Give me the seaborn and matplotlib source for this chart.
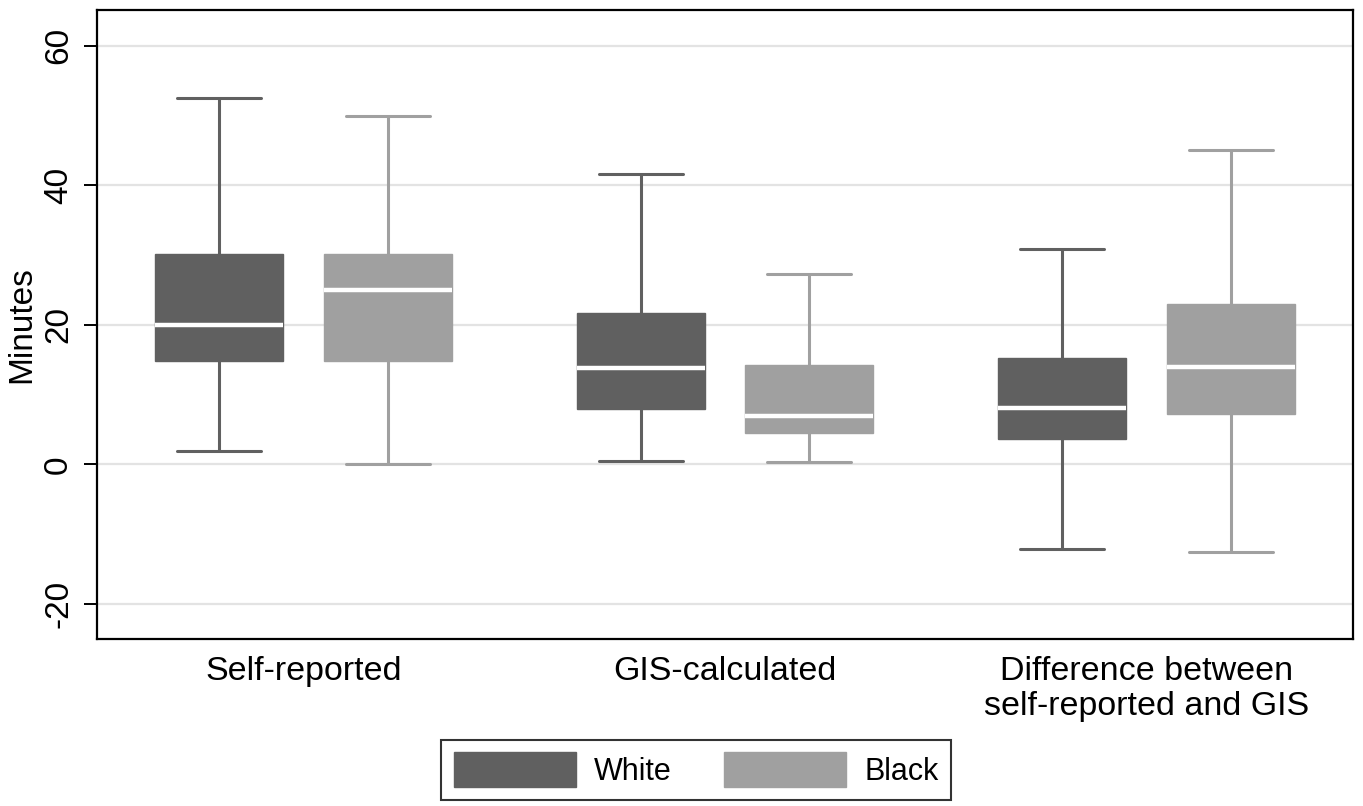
import numpy as np
import pandas as pd
import matplotlib
matplotlib.use("Agg")
import matplotlib.pyplot as plt
from matplotlib.patches import Patch
import seaborn as sns

# five-number summaries (minutes)
measures = ["Self-reported", "GIS-calculated", "Difference between\nself-reported and GIS"]
races = ["White", "Black"]

white_low = [1.9, 0.5, -12.1]
white_q1 = [14.8, 7.9, 3.7]
white_med = [20.0, 13.8, 8.1]
white_q3 = [30.1, 21.7, 15.2]
white_high = [52.5, 41.6, 30.8]

black_low = [0.0, 0.3, -12.5]
black_q1 = [14.8, 4.5, 7.2]
black_med = [25.0, 7.0, 14.0]
black_q3 = [30.1, 14.2, 23.0]
black_high = [49.9, 27.3, 45.0]

colors = {"White": "#606060", "Black": "#a0a0a0"}

#build long table, 5 points per box give exact quartiles
rows = []
summaries = {
    "White": [white_low, white_q1, white_med, white_q3, white_high],
    "Black": [black_low, black_q1, black_med, black_q3, black_high],
}
for race in races:
    for i, m in enumerate(measures):
        for stat in summaries[race]:
            rows.append({"measure": m, "race": race, "minutes": stat[i]})
df = pd.DataFrame(rows)

sns.set_style("white")
plt.rcParams["font.family"] = ["Liberation Sans", "DejaVu Sans"]
plt.rcParams["axes.unicode_minus"] = False
plt.rcParams["text.color"] = "black"
plt.rcParams["axes.labelcolor"] = "black"
plt.rcParams["xtick.color"] = "black"
plt.rcParams["ytick.color"] = "black"

fig = plt.figure(figsize=(13.63, 8.06), dpi=100)
ax = fig.add_axes([0.0712, 0.2072, 0.9215, 0.7804])

for race in races:
    sns.boxplot(data=df[df["race"] == race], x="measure", y="minutes",
                hue="race", hue_order=races, order=measures,
                palette=colors, linecolor=colors[race], linewidth=2.2,
                width=0.8, gap=0.24, whis=np.inf, dodge=True,
                saturation=1, legend=False, ax=ax,
                medianprops=dict(color="white", linewidth=3.2),
                boxprops=dict(linewidth=1),
                capwidths=0.2)

ax.set_xlim(-0.49, 2.49)
ax.set_ylim(-25, 65.1)
ax.set_yticks([-20, 0, 20, 40, 60])
ax.yaxis.grid(True, color="#e3e3e3", linewidth=1.6)
ax.set_axisbelow(True)
for s in ax.spines.values():
    s.set_color("black")
    s.set_linewidth(1.6)

ax.tick_params(axis="y", length=9.5, width=1.4, direction="out", pad=7,
               labelsize=24, left=True, color="black", labelcolor="black")
ax.tick_params(axis="x", length=0, pad=12, labelsize=24.5, labelcolor="black")
for lab in ax.get_yticklabels():
    lab.set_rotation(90)
    lab.set_va("center")
ax.set_xlabel("")
ax.set_ylabel("Minutes", fontsize=24, labelpad=4, color="black")

handles = [Patch(facecolor=colors[r], edgecolor=colors[r], label=r) for r in races]
leg = fig.legend(handles=handles, loc="upper center", bbox_to_anchor=(0.5107, 0.082),
                 ncol=2, fontsize=22, frameon=True, fancybox=False,
                 handlelength=4.0, handleheight=1.4, handletextpad=0.6,
                 columnspacing=1.7, borderpad=0.4, borderaxespad=0)
leg.get_frame().set_edgecolor("black")
leg.get_frame().set_linewidth(1.5)

fig.savefig("out.png", dpi=100)
